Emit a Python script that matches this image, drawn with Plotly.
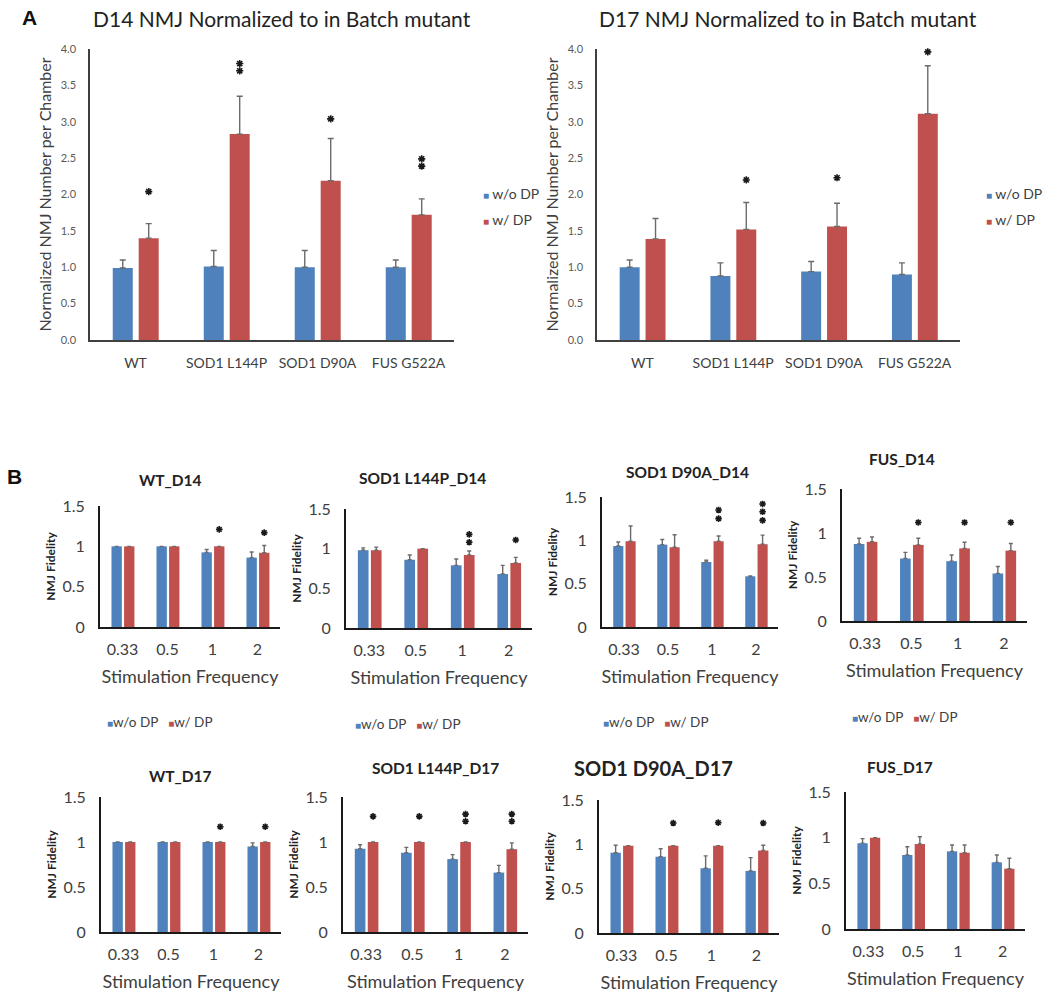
import plotly.graph_objects as go

W, H = 1050, 1000
BLUE = "#4F81BD"
RED = "#C0504D"
FONT = "Lato"
TXT = "#404040"

# ---------------- Data: panel A ----------------
a_groups = ["WT", "SOD1 L144P", "SOD1 D90A", "FUS G522A"]

d14_wo = [0.99, 1.01, 1.00, 1.00]
d14_wo_err = [0.11, 0.22, 0.23, 0.10]
d14_w = [1.40, 2.83, 2.19, 1.72]
d14_w_err = [0.20, 0.52, 0.58, 0.22]
d14_sig = [[2.04], [3.80, 3.70], [3.04], [2.49, 2.39]]

d17_wo = [1.00, 0.88, 0.94, 0.90]
d17_wo_err = [0.10, 0.18, 0.14, 0.16]
d17_w = [1.39, 1.52, 1.56, 3.11]
d17_w_err = [0.28, 0.37, 0.32, 0.66]
d17_sig = [[], [2.20], [2.23], [4.05, 3.96]]

a_ticks = [0, 0.5, 1, 1.5, 2, 2.5, 3, 3.5, 4]

# ---------------- Data: panel B ----------------
freqs = ["0.33", "0.5", "1", "2"]
b_ticks = [0, 0.5, 1, 1.5]
b_ticktext = ["0", "0.5", "1", "1.5"]

wt14_wo = [1.00, 1.00, 0.925, 0.86]
wt14_wo_err = [0.0, 0.0, 0.035, 0.07]
wt14_w = [1.00, 1.00, 1.00, 0.92]
wt14_w_err = [0.0, 0.0, 0.0, 0.09]
wt14_sig = [[], [], [1.21], [1.17]]

l144_14_wo = [0.98, 0.86, 0.79, 0.68]
l144_14_wo_err = [0.03, 0.06, 0.08, 0.11]
l144_14_w = [0.98, 1.00, 0.92, 0.82]
l144_14_w_err = [0.04, 0.0, 0.05, 0.07]
l144_14_sig = [[], [], [1.18, 1.08], [1.11]]

d90_14_wo = [0.935, 0.95, 0.75, 0.585]
d90_14_wo_err = [0.045, 0.06, 0.02, 0.005]
d90_14_w = [0.99, 0.92, 0.99, 0.955]
d90_14_w_err = [0.175, 0.145, 0.06, 0.105]
d90_14_sig = [[], [], [1.35, 1.25], [1.42, 1.33, 1.23]]

fus14_wo = [0.875, 0.71, 0.68, 0.54]
fus14_wo_err = [0.065, 0.07, 0.07, 0.08]
fus14_w = [0.90, 0.865, 0.825, 0.80]
fus14_w_err = [0.055, 0.075, 0.07, 0.08]
fus14_sig = [[], [1.12], [1.12], [1.12]]

wt17_wo = [1.00, 1.00, 1.00, 0.95]
wt17_wo_err = [0.0, 0.0, 0.0, 0.04]
wt17_w = [1.00, 1.00, 1.00, 1.00]
wt17_w_err = [0.0, 0.0, 0.0, 0.0]
wt17_sig = [[], [], [1.17], [1.17]]

l144_17_wo = [0.925, 0.88, 0.81, 0.66]
l144_17_wo_err = [0.045, 0.06, 0.05, 0.08]
l144_17_w = [1.00, 1.00, 1.00, 0.92]
l144_17_w_err = [0.0, 0.0, 0.0, 0.07]
l144_17_sig = [[1.285], [1.285], [1.31, 1.23], [1.31, 1.23]]

d90_17_wo = [0.905, 0.86, 0.73, 0.70]
d90_17_wo_err = [0.085, 0.09, 0.14, 0.15]
d90_17_w = [0.985, 0.985, 0.985, 0.93]
d90_17_w_err = [0.0, 0.0, 0.0, 0.06]
d90_17_sig = [[], [1.24], [1.245], [1.24]]

fus17_wo = [0.94, 0.81, 0.85, 0.73]
fus17_wo_err = [0.05, 0.09, 0.07, 0.08]
fus17_w = [1.00, 0.93, 0.835, 0.66]
fus17_w_err = [0.0, 0.08, 0.085, 0.115]
fus17_sig = [[], [], [], []]


def fx(px):
    return px / W


def fy(py):
    return 1 - py / H


fig = go.Figure()
annotations = []
layout = {}


def add_panel(idx, cats, wo, wo_err, w, w_err, sig, xdom, ydom, yr, ytickvals,
              yticktext, ytitle, ytitle_font, tick_font, cat_font, xtitle, xtitle_font,
              bw, off_wo, off_w, axis_color, axis_w, err_cap, star_size,
              ylab_standoff, xlab_standoff, ytitle_standoff, xtitle_standoff):
    sx = "" if idx == 1 else str(idx)
    xs = list(range(len(cats)))
    for vals, errs, col, off, name in [(wo, wo_err, BLUE, off_wo, "w/o DP"),
                                       (w, w_err, RED, off_w, "w/ DP")]:
        fig.add_trace(go.Bar(
            x=xs, y=vals, width=bw, offset=off, marker=dict(color=col, line=dict(width=0)),
            name=name, showlegend=False, xaxis="x" + sx, yaxis="y" + sx,
            error_y=dict(type="data", symmetric=False, array=errs,
                         arrayminus=[0] * len(errs), color="#6b6b6b",
                         thickness=1.4, width=err_cap)))
    # significance asterisks above the "w/ DP" bars
    red_c = off_w + bw / 2
    star_x = [i + red_c for i, stars in enumerate(sig) for _ in stars]
    star_y = [s for stars in sig for s in stars]
    if star_x:
        fig.add_trace(go.Scatter(
            x=star_x, y=star_y, mode="markers", showlegend=False, cliponaxis=False,
            hoverinfo="skip", xaxis="x" + sx, yaxis="y" + sx,
            marker=dict(symbol="asterisk-open", size=star_size, color="#1a1a1a",
                        line=dict(color="#1a1a1a", width=1.6))))
    layout["xaxis" + sx] = dict(
        domain=[fx(xdom[0]), fx(xdom[1])], anchor="y" + sx, range=[-0.5, len(cats) - 0.5],
        tickvals=xs, ticktext=cats, showline=True, linecolor=axis_color, linewidth=axis_w,
        showgrid=False, zeroline=False, ticks="", tickfont=cat_font, automargin=False,
        ticklabelstandoff=xlab_standoff,
        title=dict(text=xtitle, font=xtitle_font, standoff=xtitle_standoff) if xtitle else None)
    layout["yaxis" + sx] = dict(
        domain=[fy(ydom[1]), fy(ydom[0])], anchor="x" + sx, range=yr,
        tickvals=ytickvals, ticktext=yticktext, showline=True, linecolor=axis_color,
        linewidth=axis_w, showgrid=False, zeroline=False, ticks="", tickfont=tick_font,
        ticklabelstandoff=ylab_standoff, automargin=False,
        title=dict(text=ytitle, font=ytitle_font, standoff=ytitle_standoff))


# ---- Panel A ----
a_tick_font = dict(size=11, color="#595959", family=FONT)
a_cat_font = dict(size=14, color=TXT, family=FONT)
a_ytitle_font = dict(size=16, color=TXT, family=FONT)
a_ticktext = [f"{v:.1f}" for v in a_ticks]

add_panel(1, a_groups, d14_wo, d14_wo_err, d14_w, d14_w_err, d14_sig,
          (90, 454), (49, 340), [0, 4], a_ticks, a_ticktext,
          "Normalized NMJ Number per Chamber", a_ytitle_font, a_tick_font, a_cat_font,
          None, None, 0.22, -0.25, 0.035, "#404040", 1.5, 3, 6, 10, 9, 5, 0)
add_panel(2, a_groups, d17_wo, d17_wo_err, d17_w, d17_w_err, d17_sig,
          (597, 960), (49, 340), [0, 4], a_ticks, a_ticktext,
          "Normalized NMJ Number per Chamber", a_ytitle_font, a_tick_font, a_cat_font,
          None, None, 0.22, -0.25, 0.035, "#404040", 1.5, 3, 6, 10, 9, 5, 0)

# ---- Panel B ----
b_tick_font = dict(size=16, color=TXT, family=FONT)
b_ytitle_font = dict(size=12, color="#222", family=FONT, weight="bold")
b_xtitle_font = dict(size=18, color=TXT, family=FONT)

b_panels = [
    (freqs, wt14_wo, wt14_wo_err, wt14_w, wt14_w_err, wt14_sig, (100, 280), (506, 627)),
    (freqs, l144_14_wo, l144_14_wo_err, l144_14_w, l144_14_w_err, l144_14_sig, (346, 532), (509, 628)),
    (freqs, d90_14_wo, d90_14_wo_err, d90_14_w, d90_14_w_err, d90_14_sig, (602, 778), (497, 627)),
    (freqs, fus14_wo, fus14_wo_err, fus14_w, fus14_w_err, fus14_sig, (842, 1027), (489, 621)),
    (freqs, wt17_wo, wt17_wo_err, wt17_w, wt17_w_err, wt17_sig, (101, 281), (797, 932)),
    (freqs, l144_17_wo, l144_17_wo_err, l144_17_w, l144_17_w_err, l144_17_sig, (343, 528), (797, 932)),
    (freqs, d90_17_wo, d90_17_wo_err, d90_17_w, d90_17_w_err, d90_17_sig, (599, 779), (800, 933)),
    (freqs, fus17_wo, fus17_wo_err, fus17_w, fus17_w_err, fus17_sig, (846, 1025), (792, 929)),
]
for k, (cats, wo, woe, w, we, sig, xd, yd) in enumerate(b_panels):
    add_panel(3 + k, cats, wo, woe, w, we, sig, xd, yd, [0, 1.5], b_ticks, b_ticktext,
              "NMJ Fidelity", b_ytitle_font, b_tick_font, b_tick_font,
              "Stimulation Frequency", b_xtitle_font, 0.23, -0.245, 0.035, "#1a1a1a", 2,
              2, 5.5, 10, 7, 4, 13)

# ---- titles and labels ----
b_titles = [
    ("WT_D14", 170, 480, 15.5), ("SOD1 L144P_D14", 422, 478, 15.5),
    ("SOD1 D90A_D14", 687, 472, 15.5), ("FUS_D14", 902, 459, 15.5),
    ("WT_D17", 180, 776, 15.5), ("SOD1 L144P_D17", 435, 768, 15.5),
    ("SOD1 D90A_D17", 653, 768, 20), ("FUS_D17", 900, 767, 15.5),
]
for t, x, y, s in b_titles:
    annotations.append(dict(xref="paper", yref="paper", x=fx(x), y=fy(y), text="<b>" + t + "</b>",
                            showarrow=False, xanchor="center", yanchor="middle",
                            font=dict(size=s, color="#222", family=FONT)))

annotations.append(dict(xref="paper", yref="paper", x=fx(282), y=fy(18),
                        text="D14 NMJ Normalized to in Batch mutant", showarrow=False,
                        xanchor="center", yanchor="middle",
                        font=dict(size=21, color="#222", family=FONT)))
annotations.append(dict(xref="paper", yref="paper", x=fx(788), y=fy(18),
                        text="D17 NMJ Normalized to in Batch mutant", showarrow=False,
                        xanchor="center", yanchor="middle",
                        font=dict(size=21, color="#222", family=FONT)))
for letter, x, y in [("A", 29, 17), ("B", 14, 476)]:
    annotations.append(dict(xref="paper", yref="paper", x=fx(x), y=fy(y), text="<b>" + letter + "</b>",
                            showarrow=False, xanchor="center", yanchor="middle",
                            font=dict(size=21, color="#111", family="Liberation Sans")))

# legends for panel A
for lx in (481, 984):
    for name, col, ly in [("w/o DP", BLUE, 194), ("w/ DP", RED, 220)]:
        annotations.append(dict(
            xref="paper", yref="paper", x=fx(lx), y=fy(ly), xanchor="left", yanchor="middle",
            text=f'<span style="color:{col};font-size:10px">■</span> {name}', showarrow=False,
            font=dict(size=14, color=TXT, family=FONT)))

# legends under row 1 of panel B
for cx, cy in [(159, 722), (407, 724), (655, 722), (904, 717)]:
    annotations.append(dict(
        xref="paper", yref="paper", x=fx(cx), y=fy(cy), xanchor="center", yanchor="middle",
        text=(f'<span style="color:{BLUE};font-size:10px">■</span>w/o DP   '
              f'<span style="color:{RED};font-size:10px">■</span>w/ DP'),
        showarrow=False, font=dict(size=13.5, color=TXT, family=FONT)))

fig.update_layout(
    width=W, height=H, autosize=False,
    margin=dict(l=0, r=0, t=0, b=0, autoexpand=False),
    paper_bgcolor="white", plot_bgcolor="white",
    showlegend=False, barmode="overlay",
    font=dict(family=FONT, color=TXT),
    annotations=annotations,
    **layout,
)

fig.write_html("out.html", config={"displayModeBar": False},
               post_script="document.body.style.margin='0';document.body.style.overflow='hidden';")
